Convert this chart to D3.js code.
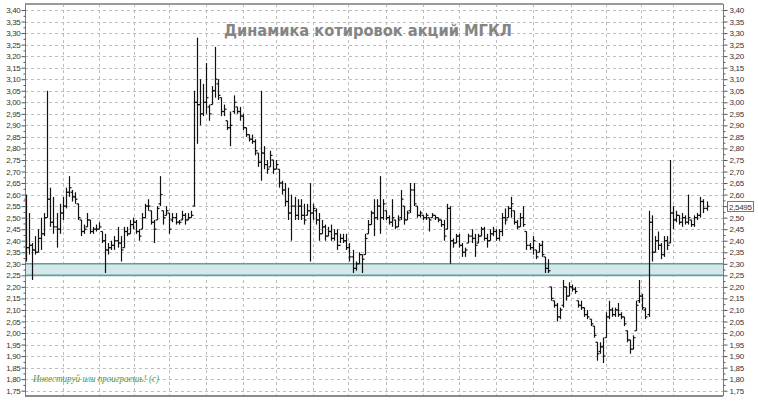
<!DOCTYPE html>
<html><head><meta charset="utf-8">
<script src="https://cdn.jsdelivr.net/npm/d3@7/dist/d3.min.js"></script>
<style>body{margin:0;background:#fff}svg{display:block}</style>
</head><body><svg id="c" width="758" height="402"></svg>
<script>
// ---- data ----
const high = [2.60,2.52,2.39,2.42,2.45,2.50,2.52,3.05,2.63,2.59,2.52,2.56,2.59,2.63,2.68,2.62,2.61,2.56,2.49,2.47,2.52,2.49,2.46,2.47,2.48,2.44,2.43,2.39,2.40,2.42,2.46,2.42,2.46,2.46,2.49,2.50,2.49,2.45,2.52,2.56,2.58,2.53,2.49,2.55,2.68,2.53,2.55,2.52,2.52,2.52,2.49,2.53,2.52,2.52,2.53,
3.05,3.28,3.10,3.08,3.17,2.99,3.07,3.24,3.10,3.02,2.99,2.92,2.96,3.03,2.98,2.98,2.95,2.89,2.86,2.86,2.84,2.78,3.05,2.81,2.75,2.79,2.75,2.75,2.71,2.66,2.65,2.63,2.60,2.59,2.58,2.58,2.56,2.56,2.65,2.56,2.54,2.52,2.49,2.47,2.46,2.47,2.45,2.45,2.43,2.43,2.43,2.39,2.36,2.31,2.35,2.34,2.43,2.49,2.53,
2.58,2.58,2.68,2.58,2.53,2.51,2.58,2.49,2.51,2.62,2.55,2.53,2.65,2.65,2.55,2.53,2.51,2.52,2.50,2.52,2.51,2.50,2.49,2.49,2.56,2.55,2.41,2.43,2.43,2.39,2.37,2.43,2.45,2.43,2.43,2.46,2.46,2.43,2.45,2.46,2.45,2.45,2.52,2.54,2.55,2.59,2.53,2.49,2.52,2.55,2.44,2.39,2.42,2.36,2.39,2.40,2.33,2.32,2.20,2.14,2.13,2.11,
2.23,2.20,2.22,2.21,2.20,2.14,2.14,2.11,2.10,2.06,2.03,1.96,1.96,1.98,2.09,2.14,2.11,2.11,2.13,2.09,2.07,2.01,1.97,1.99,2.14,2.23,2.17,2.11,2.53,2.51,2.42,2.44,2.39,2.42,2.42,2.75,2.55,2.53,2.51,2.52,2.51,2.60,2.49,2.51,2.52,2.59,2.58,2.57];
const low = [2.31,2.34,2.23,2.34,2.35,2.36,2.42,2.50,2.46,2.43,2.37,2.43,2.49,2.54,2.59,2.57,2.56,2.49,2.42,2.43,2.46,2.43,2.43,2.44,2.45,2.39,2.26,2.34,2.36,2.36,2.37,2.31,2.37,2.42,2.43,2.45,2.43,2.40,2.45,2.50,2.53,2.47,2.39,2.49,2.55,2.47,2.51,2.43,2.48,2.47,2.47,2.49,2.47,2.49,2.50,
2.55,2.82,2.90,2.94,2.95,2.92,2.99,3.02,3.01,2.94,2.94,2.88,2.81,2.95,2.95,2.92,2.88,2.85,2.83,2.82,2.77,2.72,2.66,2.71,2.69,2.72,2.69,2.71,2.63,2.60,2.55,2.49,2.40,2.49,2.49,2.49,2.47,2.51,2.31,2.49,2.47,2.40,2.43,2.40,2.42,2.40,2.40,2.36,2.39,2.39,2.36,2.31,2.26,2.27,2.30,2.26,2.34,2.43,2.47,
2.42,2.49,2.43,2.49,2.49,2.47,2.46,2.45,2.46,2.49,2.47,2.49,2.52,2.55,2.50,2.50,2.49,2.49,2.44,2.50,2.49,2.48,2.46,2.40,2.45,2.30,2.37,2.39,2.37,2.33,2.33,2.39,2.39,2.33,2.39,2.42,2.40,2.37,2.40,2.42,2.40,2.40,2.42,2.47,2.50,2.50,2.47,2.45,2.46,2.46,2.36,2.36,2.34,2.32,2.35,2.33,2.26,2.26,2.14,2.11,2.05,2.06,
2.11,2.14,2.16,2.18,2.17,2.11,2.10,2.07,2.06,2.03,1.98,1.88,1.91,1.87,1.98,2.06,2.07,2.07,2.07,2.06,2.03,1.96,1.91,1.93,2.01,2.13,2.10,2.06,2.07,2.31,2.35,2.36,2.32,2.33,2.36,2.39,2.45,2.48,2.47,2.46,2.47,2.47,2.46,2.46,2.49,2.50,2.52,2.53];
const open = [2.58,2.37,2.38,2.36,2.35,2.41,2.43,2.50,2.58,2.48,2.46,2.45,2.52,2.55,2.61,2.61,2.59,2.56,2.49,2.44,2.46,2.49,2.44,2.45,2.45,2.44,2.40,2.36,2.37,2.38,2.40,2.39,2.37,2.44,2.43,2.47,2.48,2.44,2.45,2.50,2.55,2.53,2.48,2.49,2.56,2.53,2.51,2.52,2.49,2.50,2.48,2.49,2.51,2.49,2.50,
2.55,3.00,2.99,2.95,3.00,2.98,2.99,3.05,3.08,3.02,2.96,2.92,2.89,2.96,2.98,2.96,2.94,2.89,2.86,2.84,2.83,2.78,2.74,2.78,2.73,2.72,2.75,2.71,2.71,2.65,2.62,2.57,2.52,2.55,2.51,2.55,2.51,2.51,2.53,2.52,2.53,2.49,2.43,2.46,2.42,2.44,2.41,2.43,2.38,2.41,2.40,2.37,2.33,2.28,2.30,2.34,2.34,2.43,2.47,
2.52,2.50,2.55,2.50,2.53,2.50,2.48,2.49,2.46,2.50,2.55,2.49,2.53,2.62,2.55,2.51,2.51,2.50,2.50,2.50,2.51,2.50,2.49,2.47,2.45,2.54,2.40,2.39,2.42,2.38,2.35,2.39,2.42,2.41,2.39,2.42,2.45,2.41,2.40,2.43,2.44,2.41,2.44,2.50,2.50,2.54,2.53,2.48,2.46,2.50,2.44,2.38,2.37,2.36,2.35,2.38,2.33,2.28,2.20,2.14,2.12,2.07,
2.12,2.20,2.16,2.20,2.19,2.14,2.12,2.11,2.08,2.06,2.03,1.96,1.92,1.94,1.98,2.07,2.10,2.08,2.10,2.08,2.07,2.01,1.97,1.93,2.01,2.14,2.16,2.10,2.08,2.48,2.35,2.40,2.38,2.34,2.40,2.39,2.52,2.49,2.51,2.48,2.50,2.48,2.49,2.47,2.50,2.51,2.57,2.54];
const close = [2.37,2.38,2.36,2.35,2.41,2.43,2.50,2.58,2.48,2.46,2.45,2.52,2.55,2.61,2.63,2.59,2.58,2.50,2.44,2.45,2.49,2.44,2.45,2.45,2.46,2.40,2.36,2.37,2.38,2.40,2.39,2.36,2.44,2.43,2.47,2.48,2.44,2.42,2.50,2.55,2.55,2.48,2.45,2.54,2.60,2.50,2.53,2.45,2.50,2.48,2.48,2.51,2.49,2.50,2.51,
3.00,2.99,2.95,3.00,3.02,2.95,3.05,3.10,3.03,2.96,2.97,2.89,2.90,3.00,2.96,2.94,2.89,2.86,2.84,2.83,2.79,2.74,2.78,2.73,2.71,2.77,2.71,2.73,2.65,2.62,2.57,2.52,2.55,2.51,2.55,2.51,2.49,2.53,2.52,2.54,2.49,2.43,2.46,2.42,2.44,2.41,2.43,2.38,2.41,2.40,2.37,2.33,2.28,2.30,2.34,2.32,2.41,2.47,2.52,
2.50,2.55,2.50,2.56,2.50,2.48,2.50,2.46,2.49,2.58,2.49,2.52,2.62,2.56,2.51,2.52,2.50,2.51,2.49,2.51,2.50,2.49,2.47,2.42,2.54,2.40,2.39,2.42,2.38,2.35,2.36,2.42,2.41,2.38,2.42,2.45,2.41,2.40,2.43,2.44,2.41,2.44,2.50,2.49,2.54,2.56,2.48,2.46,2.50,2.47,2.38,2.37,2.40,2.33,2.38,2.34,2.28,2.27,2.15,2.12,2.07,2.10,
2.20,2.16,2.20,2.19,2.18,2.12,2.11,2.08,2.07,2.04,1.99,1.91,1.94,1.90,2.07,2.10,2.08,2.10,2.08,2.07,2.04,1.97,1.93,1.98,2.12,2.16,2.11,2.07,2.48,2.35,2.40,2.38,2.34,2.40,2.38,2.52,2.49,2.51,2.48,2.50,2.48,2.50,2.47,2.50,2.51,2.57,2.54,2.5495];
const yTickValues = [1.75,1.80,1.85,1.90,1.95,2.00,2.05,2.10,2.15,2.20,2.25,2.30,2.35,2.40,2.45,2.50,2.55,2.60,2.65,2.70,2.75,2.80,2.85,2.90,2.95,3.00,3.05,3.10,3.15,3.20,3.25,3.30,3.35,3.40];
const gridBarIdx = [12,24,35.5,47,59,71,82,94,105.5,118,130,142,154,166,178.5,190,201.5,212];
const supportBand = [2.25, 2.30];
const lastPrice = 2.5495;
const lastPriceLabel = "2,5495";
const titleText = "Динамика котировок акций МГКЛ";
const noteText = "Инвестируй или проиграешь! (с)";

// ---- layout ----
const L = 25, R = 723, T = 4, B = 396;
const svg = d3.select("#c");
const x = d3.scaleLinear().domain([0, high.length - 1]).range([26, 706.5]);
const y = d3.scaleLinear().domain([1.75, 3.40]).range([390.7, 10]);
const fmt = d => d.toFixed(2).replace(".", ",");

// grid
const g = svg.append("g");
g.selectAll("line.h").data(yTickValues).join("line")
  .attr("x1", L).attr("x2", R)
  .attr("y1", d => Math.round(y(d)) + 0.5).attr("y2", d => Math.round(y(d)) + 0.5)
  .attr("stroke", "#bdbdbd").attr("stroke-dasharray", "3,3");
g.selectAll("line.v").data(gridBarIdx).join("line")
  .attr("y1", T).attr("y2", B)
  .attr("x1", d => Math.round(x(d)) + 0.5).attr("x2", d => Math.round(x(d)) + 0.5)
  .attr("stroke", "#bdbdbd").attr("stroke-dasharray", "3,3");

// band
svg.append("rect").attr("x", L).attr("width", R - L)
  .attr("y", y(supportBand[1])).attr("height", y(supportBand[0]) - y(supportBand[1]))
  .attr("fill", "#d4e7e9");
svg.selectAll("line.band").data(supportBand).join("line")
  .attr("x1", L).attr("x2", R).attr("y1", d => y(d)).attr("y2", d => y(d))
  .attr("stroke", "#5f9ea3").attr("stroke-width", 1.6);

// title & note
svg.append("text").attr("x", 368).attr("y", 36).attr("text-anchor", "middle")
  .attr("font-family", "DejaVu Sans, Verdana, sans-serif").attr("font-weight", "bold")
  .attr("font-size", 16).attr("fill", "#858585")
  .attr("textLength", 288).attr("lengthAdjust", "spacingAndGlyphs").text(titleText);
svg.append("text").attr("x", 33).attr("y", 382)
  .attr("font-family", "Liberation Serif, serif").attr("font-style", "italic")
  .attr("font-size", 10).attr("fill", "#4f9a4f")
  .attr("textLength", 126).attr("lengthAdjust", "spacingAndGlyphs").text(noteText);

// bars
const bars = svg.append("g").attr("stroke", "#111").attr("stroke-width", 1.2);
const idx = d3.range(high.length);
const px = i => Math.round(x(i)) + 0.5;
bars.selectAll("line.hl").data(idx).join("line")
  .attr("x1", px).attr("x2", px)
  .attr("y1", i => y(high[i])).attr("y2", i => y(low[i]));
bars.selectAll("line.o").data(idx).join("line")
  .attr("x1", i => px(i) - 2).attr("x2", px)
  .attr("y1", i => y(open[i])).attr("y2", i => y(open[i]));
bars.selectAll("line.c").data(idx).join("line")
  .attr("x1", px).attr("x2", i => px(i) + 2)
  .attr("y1", i => y(close[i])).attr("y2", i => y(close[i]));

// frame
svg.append("line").attr("x1", L).attr("x2", R).attr("y1", T).attr("y2", T).attr("stroke", "#9a9a9a").attr("stroke-width", 2);
svg.append("line").attr("x1", L).attr("x2", R).attr("y1", B).attr("y2", B).attr("stroke", "#8a8a8a").attr("stroke-width", 2);

// axes
const minor = yTickValues.slice(0, -1).map((d, i) => (d + yTickValues[i + 1]) / 2);
function styleAxis(sel) {
  sel.select(".domain").attr("stroke", "#7a7a7a");
  sel.selectAll(".tick line").attr("stroke", "#555");
  sel.selectAll("text").attr("font-family", "Liberation Sans, Arial, sans-serif")
    .attr("font-size", 8).attr("fill", "#333").attr("letter-spacing", "-0.3");
}
const la = svg.append("g").attr("transform", `translate(${L + 0.5},0)`)
  .call(d3.axisLeft(y).tickValues(yTickValues).tickSize(4).tickPadding(1).tickFormat(fmt).tickSizeOuter(0));
styleAxis(la);
la.select(".domain").attr("d", `M0,${T}V${B}`);
svg.append("g").attr("transform", `translate(${L + 0.5},0)`)
  .call(d3.axisLeft(y).tickValues(minor).tickSize(2).tickFormat("").tickSizeOuter(0))
  .call(s => { s.select(".domain").remove(); s.selectAll("line").attr("stroke", "#555"); });
const ra = svg.append("g").attr("transform", `translate(${R + 0.5},0)`)
  .call(d3.axisRight(y).tickValues(yTickValues).tickSize(4).tickPadding(2).tickFormat(fmt).tickSizeOuter(0));
styleAxis(ra);
ra.select(".domain").attr("d", `M0,${T}V${B}`);
// the last-price box hides the right-hand label it covers
ra.selectAll(".tick text").filter(d => Math.abs(y(d) - y(lastPrice)) < 8).remove();
svg.append("g").attr("transform", `translate(${R + 0.5},0)`)
  .call(d3.axisRight(y).tickValues(minor).tickSize(2).tickFormat("").tickSizeOuter(0))
  .call(s => { s.select(".domain").remove(); s.selectAll("line").attr("stroke", "#555"); });

// last price label
const lp = svg.append("g").attr("transform", `translate(${R},${Math.round(y(lastPrice)) + 0.5})`);
lp.append("rect").attr("x", 4.5).attr("y", -5).attr("width", 26).attr("height", 10)
  .attr("fill", "#fff").attr("stroke", "#777");
lp.append("text").attr("x", 6).attr("y", 3).attr("font-family", "Liberation Sans, Arial, sans-serif")
  .attr("font-size", 8).attr("fill", "#333").attr("letter-spacing", "-0.3").text(lastPriceLabel);
</script></body></html>
